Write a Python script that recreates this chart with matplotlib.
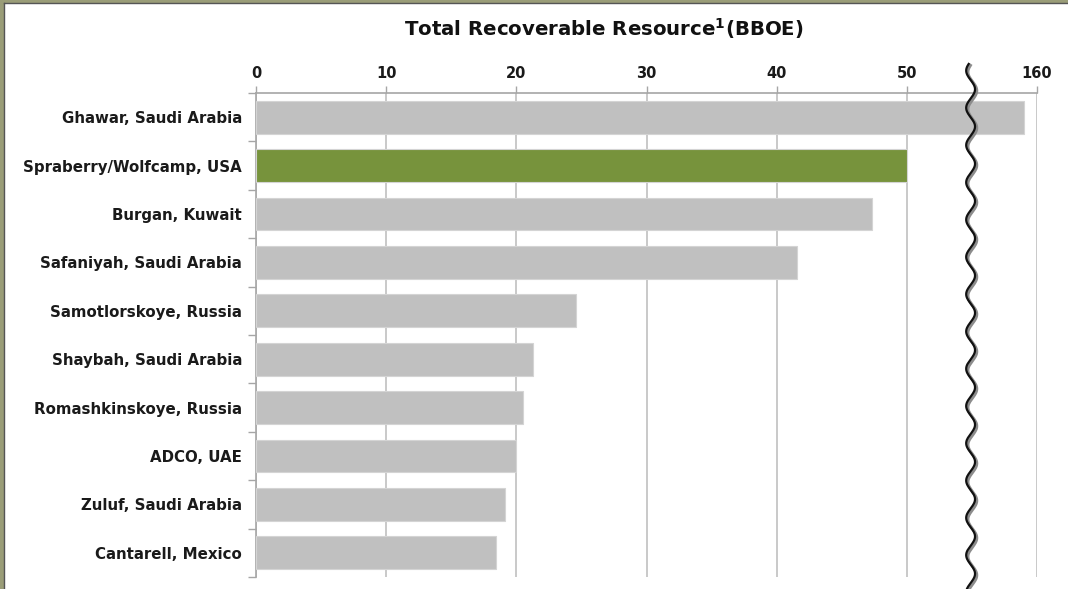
import numpy as np
import matplotlib.pyplot as plt
from matplotlib.lines import Line2D

fields = ['Ghawar, Saudi Arabia', 'Spraberry/Wolfcamp, USA', 'Burgan, Kuwait',
          'Safaniyah, Saudi Arabia', 'Samotlorskoye, Russia', 'Shaybah, Saudi Arabia',
          'Romashkinskoye, Russia', 'ADCO, UAE', 'Zuluf, Saudi Arabia', 'Cantarell, Mexico']
resource = [159, 50, 47.3, 41.6, 24.6, 21.3, 20.5, 20.0, 19.1, 18.4]
tick_values = [0, 10, 20, 30, 40, 50, 160]

# axis is broken between 50 and 160: values past the break are shifted down by 100
break_shift = 100
break_pos = 54.9


def toAxis(v):
    return v - break_shift if v > break_pos else v


colors = ['#c0c0c0'] * len(fields)
colors[1] = '#77933c'

plt.rcParams['font.family'] = ['DejaVu Sans']

fig = plt.figure(figsize=(10.68, 5.89), dpi=100)
ax = fig.add_axes([256 / 1068, 1 - 577 / 589, (1037 - 256) / 1068, (577 - 93) / 589])

y = np.arange(len(fields))
ax.barh(y, [toAxis(v) for v in resource], height=0.68, color=colors,
        edgecolor='#d4d4d4', linewidth=0.8, zorder=3)

ax.set_ylim(len(fields) - 0.5, -0.5)
ax.set_xlim(0, 60)
ax.set_yticks(y)
ax.set_yticklabels(fields, fontsize=10.8, fontweight='bold', color='#1a1a1a')
ax.set_yticks(np.arange(-0.5, len(fields), 1), minor=True)
ax.tick_params(axis='y', which='major', length=0, pad=10)
ax.tick_params(axis='y', which='minor', length=6, color='#a6a6a6', width=1)

ax.xaxis.tick_top()
ax.set_xticks([toAxis(v) for v in tick_values])
ax.set_xticklabels([str(v) for v in tick_values], fontsize=10.5, fontweight='bold', color='#1a1a1a')
ax.tick_params(axis='x', length=5, color='#a6a6a6', width=1, pad=4)
ax.grid(axis='x', color='#c0c0c0', linewidth=1.2, zorder=0)

for side in ['right', 'bottom']:
    ax.spines[side].set_visible(False)
for side in ['top', 'left']:
    ax.spines[side].set_color('#a6a6a6')
    ax.spines[side].set_linewidth(1.2)

# wavy break marker
wy = np.linspace(-1.1, 10.0, 800)
wx = break_pos + 0.34 * np.sin(2 * np.pi * wy / 0.77)
ax.plot(wx + 0.13, wy + 0.03, color='#8c8c8c', linewidth=2.2, clip_on=False, zorder=4)
ax.plot(wx, wy, color='#111111', linewidth=1.6, clip_on=False, zorder=5)

fig.text(0.565, 0.952, r'Total Recoverable Resource$^{\mathregular{1}}$(BBOE)',
         ha='center', va='center', fontsize=14.2, fontweight='bold', color='#111111')

# slide frame
fig.add_artist(Line2D([0.0015, 0.0015], [0, 1], transform=fig.transFigure, color='#9a9d78', linewidth=3))
fig.add_artist(Line2D([0, 1], [0.9975, 0.9975], transform=fig.transFigure, color='#9a9d78', linewidth=3))
fig.add_artist(Line2D([0.0038, 0.0038], [0, 0.9945], transform=fig.transFigure, color='#555555', linewidth=1))
fig.add_artist(Line2D([0.0038, 1], [0.9945, 0.9945], transform=fig.transFigure, color='#555555', linewidth=1))

fig.savefig('out.png', dpi=100)
